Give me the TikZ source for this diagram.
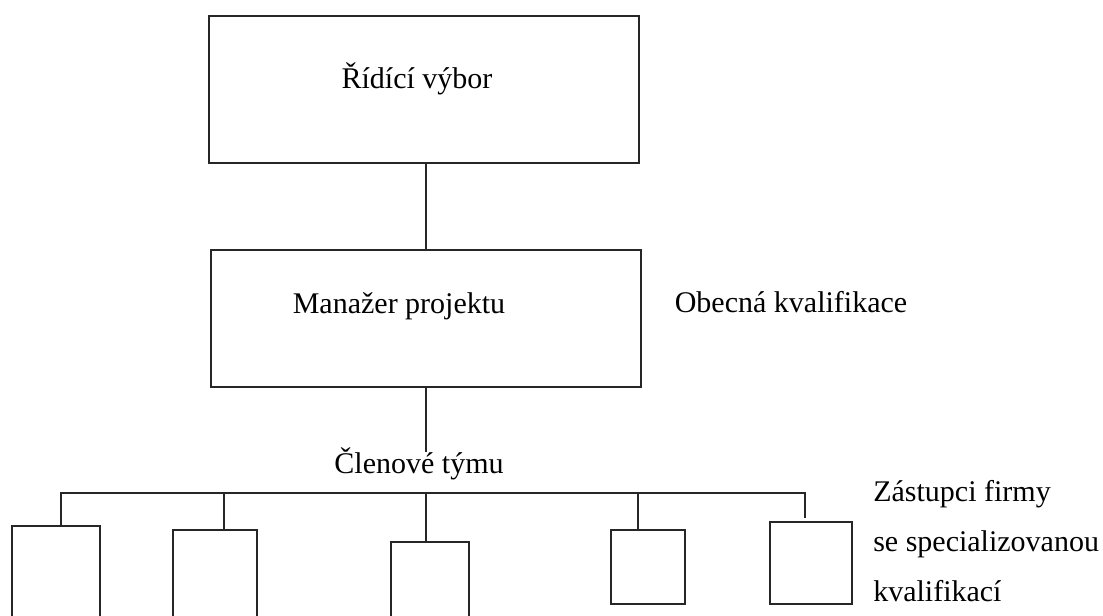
\documentclass[tikz,border=0pt]{standalone}
\usepackage{fontspec}
\setmainfont{Liberation Serif}
\usepackage{tikz}
\usetikzlibrary{positioning}

\begin{document}
\begin{tikzpicture}[
  x=0.75pt, y=-0.75pt,
  box/.style={draw=black!85, line width=1.3pt, inner sep=0pt},
  txt/.style={inner sep=0pt, font=\fontsize{22.5pt}{37.5pt}\selectfont},
  link/.style={draw=black!85, line width=1.3pt}
]
\clip (0,0) rectangle (1103,615);
\node[box, minimum width=322.5pt, minimum height=110.25pt] (rid) at (424,89.5) {};
\node[box, minimum width=322.5pt, minimum height=102.75pt] (man) at (426,318.5) {};
\node[txt, anchor=base] (ridt) at (417,88) {Řídící výbor};
\node[txt, anchor=base] (mant) at (399,313) {Manažer projektu};
\node[txt, anchor=base] (obecna) at (791,312) {Obecná kvalifikace};
\node[txt, anchor=base] (clen) at (419,473) {Členové týmu};
\node[txt, anchor=north west, align=left] (zastupci) at (873,480) {Zástupci firmy\\se specializovanou\\kvalifikací};
\node[box, minimum width=66pt, minimum height=70.5pt] (m1) at (56,573) {};
\node[box, minimum width=63pt, minimum height=67.5pt] (m2) at (215,575) {};
\node[box, minimum width=58.5pt, minimum height=58.5pt] (m3) at (430,581) {};
\node[box, minimum width=55.5pt, minimum height=55.5pt] (m4) at (648,567) {};
\node[box, minimum width=61.5pt, minimum height=61.5pt] (m5) at (811,563) {};
\draw[link] (man.north |- rid.south) -- (man.north);
\draw[link] (man.south) -- ([yshift=-3.75pt]man.south |- clen.north);
\foreach \i/\x in {1/61,2/224,3/426,4/638,5/805}
  \coordinate (t\i) at (\x,493);
\draw[link] (t1 |- m1.north) -- (t1) -- (t5) -- ([yshift=2.25pt]t5 |- m5.north);
\foreach \i in {2,3,4}
  \draw[link] (t\i) -- (t\i |- m\i.north);
\end{tikzpicture}
\end{document}
